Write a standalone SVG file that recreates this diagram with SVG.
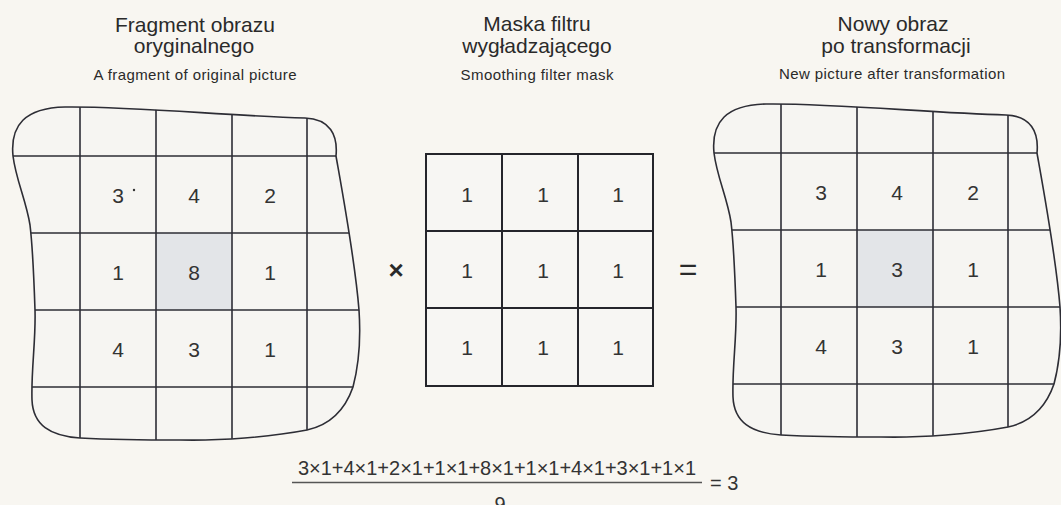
<svg xmlns="http://www.w3.org/2000/svg" xmlns:xlink="http://www.w3.org/1999/xlink" width="1061" height="505" viewBox="0 0 1061 505">
<style>
  .bg { fill: #f8f6f1; }
  .title { font-family: "Liberation Sans", Arial, sans-serif; font-size: 21px; fill: #2a2a2a; text-anchor: middle; }
  .sub { font-family: "Liberation Sans", Arial, sans-serif; font-size: 15px; fill: #2a2a2a; text-anchor: middle; }
  .num { font-family: "Liberation Sans", Arial, sans-serif; font-size: 21px; fill: #333; text-anchor: middle; }
  .op { font-family: "Liberation Sans", Arial, sans-serif; fill: #2a2a2a; text-anchor: middle; }
  .formula { font-family: "Liberation Sans", Arial, sans-serif; font-size: 20px; fill: #333; }
  .outline { fill: none; stroke: #2d2d35; stroke-width: 1.6; }
  .gridline { stroke: #2d2d35; stroke-width: 1.6; }
  .blobfill { fill: #f6f5f2; }
  .shade { fill: #e3e5e8; }
  .mask { fill: #f7f6f3; stroke: #25252b; stroke-width: 2; }
</style>
<defs>
  <path id="blob" d="M 13,156 C 10,125 25,108 65,107 C 130,106 230,116 305,118 C 330,119 338,135 336,156 C 342,190 355,260 359,310 C 361,340 358,368 353,387 C 345,410 330,425 307,430 C 270,437 220,441 180,440 C 140,440 100,439 80,438 C 50,436 33,425 32,400 C 31,370 36,340 35,310 C 34,280 33,250 30,225 C 26,200 16,180 13,156 Z"/>
  <clipPath id="blobclip"><use xlink:href="#blob"/></clipPath>
  <g id="blobgrid">
    <use xlink:href="#blob" class="blobfill"/>
    <rect class="shade" x="156" y="233" width="76" height="77"/>
    <g clip-path="url(#blobclip)">
      <line class="gridline" x1="0" y1="156" x2="370" y2="156"/>
      <line class="gridline" x1="0" y1="233" x2="370" y2="233"/>
      <line class="gridline" x1="0" y1="310" x2="370" y2="310"/>
      <line class="gridline" x1="0" y1="387" x2="370" y2="387"/>
      <line class="gridline" x1="80" y1="100" x2="80" y2="450"/>
      <line class="gridline" x1="156" y1="100" x2="156" y2="450"/>
      <line class="gridline" x1="232" y1="100" x2="232" y2="450"/>
      <line class="gridline" x1="307" y1="100" x2="307" y2="450"/>
    </g>
    <use xlink:href="#blob" class="outline"/>
  </g>
</defs>

<rect class="bg" x="0" y="0" width="1061" height="505"/>

<g id="title-original">
  <text class="title" x="195" y="32">Fragment obrazu</text>
  <text class="title" x="194" y="53">oryginalnego</text>
  <text class="sub" x="195" y="80" textLength="203">A fragment of original picture</text>
</g>
<g id="title-mask">
  <text class="title" x="537" y="31">Maska filtru</text>
  <text class="title" x="537" y="53">wygładzającego</text>
  <text class="sub" x="537" y="80" textLength="153">Smoothing filter mask</text>
</g>
<g id="title-result">
  <text class="title" x="893" y="31">Nowy obraz</text>
  <text class="title" x="896" y="53">po transformacji</text>
  <text class="sub" x="892" y="79" textLength="226">New picture after transformation</text>
</g>

<g id="original-image">
  <use xlink:href="#blobgrid"/>
  <text class="num" x="118" y="203">3</text>
  <circle cx="134" cy="190" r="1.2" fill="#333"/>
  <text class="num" x="194" y="203">4</text>
  <text class="num" x="270" y="203">2</text>
  <text class="num" x="118" y="280">1</text>
  <text class="num" x="194" y="280">8</text>
  <text class="num" x="270" y="280">1</text>
  <text class="num" x="118" y="357">4</text>
  <text class="num" x="194" y="357">3</text>
  <text class="num" x="270" y="357">1</text>
</g>

<g id="times-op">
  <text class="op" x="396" y="279" font-size="26" font-weight="bold">×</text>
</g>

<g id="filter-mask">
  <rect class="mask" x="426" y="154" width="227" height="232"/>
  <line class="mask" x1="502" y1="154" x2="502" y2="386"/>
  <line class="mask" x1="578" y1="154" x2="578" y2="386"/>
  <line class="mask" x1="426" y1="231" x2="653" y2="231"/>
  <line class="mask" x1="426" y1="308" x2="653" y2="308"/>
  <text class="num" x="467" y="202">1</text>
  <text class="num" x="543" y="202">1</text>
  <text class="num" x="618" y="202">1</text>
  <text class="num" x="467" y="278">1</text>
  <text class="num" x="543" y="278">1</text>
  <text class="num" x="618" y="278">1</text>
  <text class="num" x="467" y="355">1</text>
  <text class="num" x="543" y="355">1</text>
  <text class="num" x="618" y="355">1</text>
</g>

<g id="equals-op">
  <text class="op" x="688" y="280" font-size="32">=</text>
</g>

<g id="result-image">
  <g transform="translate(701,-3)">
    <use xlink:href="#blobgrid"/>
  </g>
  <text class="num" x="821" y="200">3</text>
  <text class="num" x="897" y="200">4</text>
  <text class="num" x="973" y="200">2</text>
  <text class="num" x="821" y="277">1</text>
  <text class="num" x="897" y="277">3</text>
  <text class="num" x="973" y="277">1</text>
  <text class="num" x="821" y="354">4</text>
  <text class="num" x="897" y="354">3</text>
  <text class="num" x="973" y="354">1</text>
</g>

<g id="formula">
  <text class="formula" x="298" y="475" textLength="398">3×1+4×1+2×1+1×1+8×1+1×1+4×1+3×1+1×1</text>
  <line x1="292" y1="482.5" x2="702" y2="482.5" stroke="#555" stroke-width="1.5"/>
  <text class="formula" x="500" y="511" text-anchor="middle">9</text>
  <text class="formula" x="710" y="490">= 3</text>
</g>

<g id="connectors"/>
</svg>
